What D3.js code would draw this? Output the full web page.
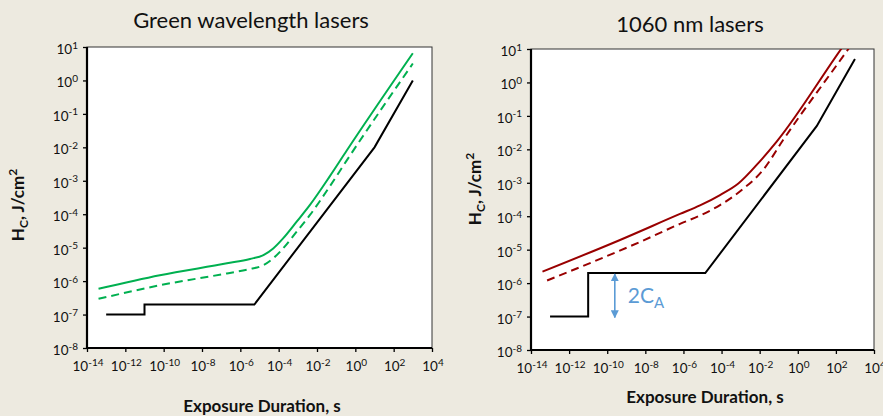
<!DOCTYPE html>
<html>
<head>
<meta charset="utf-8">
<script src="https://cdn.jsdelivr.net/npm/d3@7"></script>
<style>
  html, body { margin: 0; padding: 0; background: #edeae0; }
  svg { display: block; font-family: Lato, "Open Sans", sans-serif; }
</style>
</head>
<body>
<svg id="chart" width="883" height="416"></svg>
<script>
// Tick exponents (powers of ten) shared by both panels
const xTickExps = [-14, -12, -10, -8, -6, -4, -2, 0, 2, 4];
const yTickExps = [1, 0, -1, -2, -3, -4, -5, -6, -7, -8];

// Green wavelength lasers: exposure duration (s) and fluence H_C (J/cm²)
const greenT      = [4e-14, 6.3e-11, 2e-7, 3.2e-6, 1.6e-5, 5.2e-5, 1.7e-4, 8.7e-4, 4.3e-3, 4.8e-2, 3.5e-1, 1e3];
const greenSolid  = [5.9e-7, 1.5e-6, 3.4e-6, 4.6e-6, 6.0e-6, 9.5e-6, 1.9e-5, 6.0e-5, 1.9e-4, 1.4e-3, 7.9e-3, 6.5];
const greenDashed = [2.95e-7, 7.5e-7, 1.7e-6, 2.3e-6, 3.0e-6, 4.8e-6, 9.5e-6, 3.0e-5, 9.5e-5, 7.0e-4, 4.0e-3, 3.2];
const greenLimitT = [1e-13, 1e-11, 1e-11, 5.4e-6, 10, 1e3];
const greenLimitH = [1e-7, 1e-7, 2e-7, 2e-7, 1e-2, 1];

// 1060 nm lasers
const irT         = [4e-14, 4.7e-10, 6.6e-7, 7.4e-6, 8.3e-5, 7.6e-4, 1.0e-2, 7.8e-2, 2e2, 1e3];
const irSolid     = [2.2e-6, 1.95e-5, 1.17e-4, 2.1e-4, 4.3e-4, 9.5e-4, 4.3e-3, 1.7e-2, 10.5, 38];
const irDashedT   = [7e-14, 5.2e-9, 6.6e-7, 7.4e-6, 8.3e-5, 1.1e-3, 1.5e-2, 1.7e-1, 4.5e2, 1e3];
const irDashed    = [1.2e-6, 1.7e-5, 5.9e-5, 1.05e-4, 2.15e-4, 6.0e-4, 2.4e-3, 1.9e-2, 10, 19];
const irLimitT    = [1e-13, 1e-11, 1e-11, 1.4e-5, 10, 1e3];
const irLimitH    = [1e-7, 1e-7, 2e-6, 2e-6, 5e-2, 5];

// Annotation on the 1060 nm panel: the 2C_A step
const stepArrowT  = 2.5e-10;
const stepArrowH  = [2e-6, 1e-7];

const GREEN = "#00b050", DARKRED = "#990000", BLUE = "#5b9bd5";

const svg = d3.select("#chart");
const defs = svg.append("defs");

function zip(ts, hs) { return ts.map((t, i) => ({ t, h: hs[i] })); }

function powLabel(sel, e, base, sup) {
  sel.append("tspan").text("10");
  sel.append("tspan").attr("dy", -5.5).attr("font-size", sup).text(e < 0 ? "-" + (-e) : e);
}

function drawPanel(cfg) {
  const x = d3.scaleLog().domain([1e-14, 1e4]).range([cfg.left, cfg.right]);
  const y = d3.scaleLog().domain([1e-8, 1e1]).range([cfg.bottom, cfg.top]);
  const g = svg.append("g");

  // Title
  g.append("text")
    .attr("x", cfg.titleX).attr("y", cfg.titleY)
    .attr("text-anchor", "middle")
    .attr("font-size", 22).attr("fill", "#111")
    .text(cfg.title);

  // Plot area
  g.append("rect")
    .attr("x", cfg.left).attr("y", cfg.top)
    .attr("width", cfg.right - cfg.left).attr("height", cfg.bottom - cfg.top)
    .attr("fill", "#fff").attr("stroke", "#333").attr("stroke-width", 1);

  const clipId = "clip-" + cfg.id;
  defs.append("clipPath").attr("id", clipId)
    .append("rect")
    .attr("x", cfg.left).attr("y", cfg.top)
    .attr("width", cfg.right - cfg.left).attr("height", cfg.bottom - cfg.top);

  // Axes
  const xAxis = d3.axisBottom(x).tickValues(xTickExps.map(e => Math.pow(10, e)))
    .tickSize(4).tickFormat("");
  const yAxis = d3.axisLeft(y).tickValues(yTickExps.map(e => Math.pow(10, e)))
    .tickSize(4).tickFormat("");
  const gx = g.append("g").attr("transform", `translate(0,${cfg.bottom})`).call(xAxis);
  const gy = g.append("g").attr("transform", `translate(${cfg.left},0)`).call(yAxis);
  [gx, gy].forEach(a => {
    a.select(".domain").remove();
    a.selectAll(".tick line").attr("stroke", "#000").attr("stroke-width", 1.3);
  });
  g.append("line").attr("x1", cfg.left).attr("x2", cfg.left)
    .attr("y1", cfg.top).attr("y2", cfg.bottom + 1)
    .attr("stroke", "#000").attr("stroke-width", 2.2);
  g.append("line").attr("x1", cfg.left - 1).attr("x2", cfg.right)
    .attr("y1", cfg.bottom).attr("y2", cfg.bottom)
    .attr("stroke", "#000").attr("stroke-width", 2.2);

  // Tick labels as 10 with superscript exponent
  xTickExps.forEach(e => {
    const t = g.append("text")
      .attr("x", x(Math.pow(10, e)) + 1).attr("y", cfg.bottom + 23)
      .attr("text-anchor", "middle").attr("font-size", 13.5).attr("fill", "#111");
    powLabel(t, e, 13.5, 10);
  });
  yTickExps.forEach(e => {
    const t = g.append("text")
      .attr("x", cfg.left - 9).attr("y", y(Math.pow(10, e)) + 7)
      .attr("text-anchor", "end").attr("font-size", 13.5).attr("fill", "#111");
    powLabel(t, e, 13.5, 10);
  });

  // Axis titles
  const yt = g.append("text")
    .attr("transform", `translate(${cfg.yTitleX},${cfg.yTitleY}) rotate(-90)`)
    .attr("text-anchor", "middle").attr("font-size", 17).attr("font-weight", "bold").attr("fill", "#111");
  yt.append("tspan").text("H");
  yt.append("tspan").attr("dy", 4).attr("font-size", 12).text("C");
  yt.append("tspan").attr("dy", -4).text(", J/cm");
  yt.append("tspan").attr("dy", -7).attr("font-size", 12).text("2");

  g.append("text")
    .attr("x", cfg.xTitleX).attr("y", cfg.xTitleY)
    .attr("text-anchor", "middle").attr("font-size", 17).attr("font-weight", "bold").attr("fill", "#111")
    .text("Exposure Duration, s");

  // Curves
  const plot = g.append("g").attr("clip-path", `url(#${clipId})`);
  const smooth = d3.line().x(d => x(d.t)).y(d => y(d.h)).curve(d3.curveMonotoneX);
  const straight = d3.line().x(d => x(d.t)).y(d => y(d.h));
  cfg.series.forEach(s => {
    plot.append("path")
      .datum(zip(s.t, s.h))
      .attr("d", s.smooth ? smooth : straight)
      .attr("fill", "none")
      .attr("stroke", s.color)
      .attr("stroke-width", 2)
      .attr("stroke-dasharray", s.dash || null)
      .attr("stroke-linejoin", "miter");
  });
  return { x, y, g };
}

drawPanel({
  id: "green", title: "Green wavelength lasers", titleX: 251, titleY: 28,
  left: 87, right: 432, top: 47, bottom: 348,
  yTitleX: 24, yTitleY: 205, xTitleX: 262, xTitleY: 412,
  series: [
    { t: greenT, h: greenSolid, color: GREEN, smooth: true },
    { t: greenT, h: greenDashed, color: GREEN, smooth: true, dash: "8,5" },
    { t: greenLimitT, h: greenLimitH, color: "#000" }
  ]
});

const ir = drawPanel({
  id: "ir", title: "1060 nm lasers", titleX: 690, titleY: 31.5,
  left: 531, right: 874, top: 49, bottom: 350,
  yTitleX: 481, yTitleY: 189, xTitleX: 705, xTitleY: 403,
  series: [
    { t: irT, h: irSolid, color: DARKRED, smooth: true },
    { t: irDashedT, h: irDashed, color: DARKRED, smooth: true, dash: "8,5" },
    { t: irLimitT, h: irLimitH, color: "#000" }
  ]
});

// 2C_A double-headed arrow
defs.append("marker").attr("id", "arrowHead")
  .attr("viewBox", "0 0 10 10").attr("refX", 9).attr("refY", 5)
  .attr("markerWidth", 5).attr("markerHeight", 5)
  .attr("markerUnits", "strokeWidth")
  .attr("orient", "auto-start-reverse")
  .append("path").attr("d", "M0,0 L10,5 L0,10 Z").attr("fill", BLUE);

const ax = ir.x(stepArrowT);
ir.g.append("line")
  .attr("x1", ax).attr("x2", ax)
  .attr("y1", ir.y(stepArrowH[0]) + 1).attr("y2", ir.y(stepArrowH[1]) + 1)
  .attr("stroke", BLUE).attr("stroke-width", 1.6)
  .attr("marker-start", "url(#arrowHead)")
  .attr("marker-end", "url(#arrowHead)");

const lbl = ir.g.append("text")
  .attr("x", ax + 13)
  .attr("y", (ir.y(stepArrowH[0]) + ir.y(stepArrowH[1])) / 2 + 8)
  .attr("font-size", 21).attr("fill", BLUE);
lbl.append("tspan").text("2C");
lbl.append("tspan").attr("dy", 5).attr("font-size", 15).text("A");
</script>
</body>
</html>
